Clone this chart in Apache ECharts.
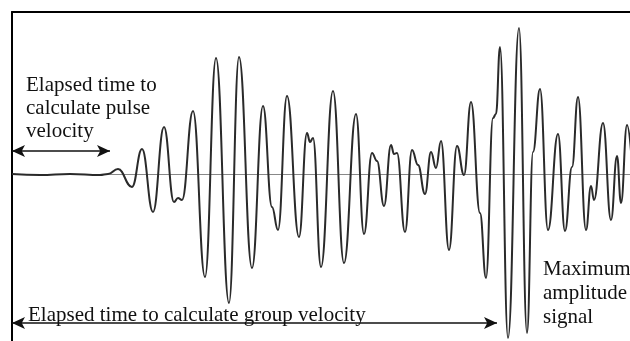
<!DOCTYPE html>
<html>
<head>
<meta charset="utf-8">
<script src="https://cdn.jsdelivr.net/npm/echarts@6/dist/echarts.min.js"></script>
<style>
  html, body { margin: 0; padding: 0; background: #fff; }
  #chart { width: 630px; height: 341px; }
</style>
</head>
<body>
<div id="chart"></div>
<script>
// waveform turning points: time (px units) and amplitude (px above the zero line)
var times = [
  12, 40, 70, 100, 108, 118, 132, 142, 153, 164,
  174, 178, 182, 193, 205, 216, 229, 239, 252,
  263, 272, 278, 287, 299, 307, 310, 313, 321, 333, 344, 356, 364,
  372, 377, 384, 391, 394, 397, 405,
  412, 418, 425, 431, 436, 441, 449,
  457, 464, 471, 480, 486, 493, 496, 500,
  508, 519, 527, 533, 540, 548, 558, 565,
  572, 578, 586, 591, 594, 603, 611, 617, 621, 627, 634
];
var amplitude = [
  0, -1, 0, -1, 0, 5, -13, 25, -38, 47,
  -28, -24, -26, 63, -103, 116, -129, 117, -94,
  68, -33, -56, 78, -63, 41, 32, 36, -93, 83, -89, 60, -60,
  21, 13, -32, 29, 20, 21, -58,
  24, 9, -20, 22, 6, 33, -76,
  28, -1, 72, -39, -104, 56, 60, 127,
  -164, 146, -159, 22, 85, -56, 40, -57,
  7, 77, -56, -12, -26, 51, -46, 18, -29, 49, -20
];

// annotation arrows, in the same units
var pulseArrow = [[12, 23], [110, 23]];
var groupArrow = [[12, -149], [497, -149]];
var peakArrow = [[520, -4], [520, -168]];

var pulseText = ['Elapsed time to', 'calculate pulse', 'velocity'];
var groupText = 'Elapsed time to calculate group velocity';
var peakText = ['Maximum', 'amplitude', 'signal'];

var chart = echarts.init(document.getElementById('chart'));

function arrowLine(pts) {
  return [{ coord: pts[0] }, { coord: pts[1] }];
}

var font = '21px "Liberation Serif", "Times New Roman", serif';
function textEl(str, x, y) {
  return {
    type: 'text',
    x: x, y: y,
    style: { text: str, font: font, fill: '#111', verticalAlign: 'middle' }
  };
}

var graphics = [];
pulseText.forEach(function (s, i) { graphics.push(textEl(s, 26, 85 + i * 23)); });
graphics.push(textEl(groupText, 28, 315));
peakText.forEach(function (s, i) { graphics.push(textEl(s, 543, 269 + i * 24)); });

var option = {
  animation: false,
  grid: { left: 12, top: 12, right: 0, bottom: 0 },
  xAxis: {
    type: 'value',
    position: 'top',
    min: 12,
    max: 630,
    axisLine: { show: true, onZero: false, lineStyle: { color: '#000', width: 2 } },
    axisTick: { show: false },
    axisLabel: { show: false },
    splitLine: { show: false }
  },
  yAxis: {
    type: 'value',
    min: -167,
    max: 162,
    axisLine: { show: true, onZero: false, lineStyle: { color: '#000', width: 2 } },
    axisTick: { show: false },
    axisLabel: { show: false },
    splitLine: { show: false }
  },
  series: [
    {
      type: 'line',
      data: times.map(function (t, i) { return [t, amplitude[i]]; }),
      smooth: 0.45,
      smoothMonotone: 'x',
      symbol: 'none',
      clip: true,
      lineStyle: { color: '#2a2a2a', width: 2 },
      z: 3,
      markLine: {
        silent: true,
        symbol: 'none',
        label: { show: false },
        lineStyle: { color: '#888', width: 1, type: 'solid' },
        data: [{ yAxis: 0 }],
        z: 1
      }
    },
    {
      type: 'line',
      data: [],
      z: 4,
      markLine: {
        silent: true,
        symbol: ['arrow', 'arrow'],
        symbolSize: [9, 13],
        label: { show: false },
        lineStyle: { color: '#111', width: 1.5, type: 'solid' },
        data: [arrowLine(pulseArrow), arrowLine(groupArrow), arrowLine(peakArrow)]
      }
    }
  ],
  graphic: graphics
};

option && chart.setOption(option);
</script>
</body>
</html>
